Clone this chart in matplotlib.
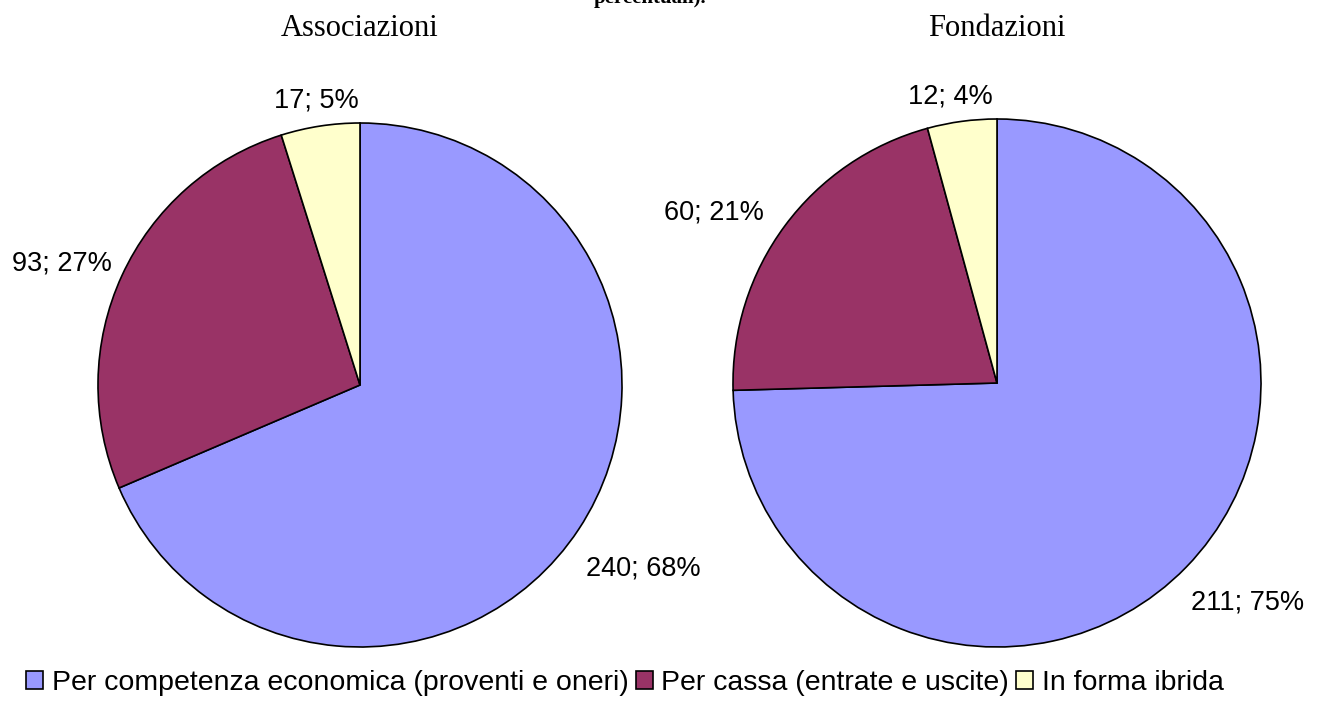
import numpy as np
import matplotlib
matplotlib.use('Agg')
import matplotlib.pyplot as plt

categories = ['Per competenza economica (proventi e oneri)',
              'Per cassa (entrate e uscite)',
              'In forma ibrida']
associazioni = [240, 93, 17]
associazioni_pct = [68, 27, 5]
fondazioni = [211, 60, 12]
fondazioni_pct = [75, 21, 4]
titles = ['Associazioni', 'Fondazioni']
colors = ['#9999FF', '#993366', '#FFFFCC']

W, H = 1327, 704
fig = plt.figure(figsize=(W / 100, H / 100), dpi=100)
ax = fig.add_axes([0, 0, 1, 1])

# pie layout in pixel units (y up); label offsets as (angle shift, radius factor)
pies = [
    (associazioni, associazioni_pct, (360, H - 385), 262, [(0.5, 1.29), (2.5, 1.23), (0, 1.10)]),
    (fondazioni, fondazioni_pct, (997, H - 383), 264, [(3, 1.26), (5.5, 1.25), (1.7, 1.10)]),
]

wedges_all = []
for (vals, pcts, center, r, lab), title in zip(pies, titles):
    wedges, _ = ax.pie(vals, colors=colors, startangle=90, counterclock=False,
                       center=center, radius=r, frame=True,
                       wedgeprops=dict(edgecolor='black', linewidth=1.2))
    wedges_all.append(wedges)
    for w, v, p, (dth, dist) in zip(wedges, vals, pcts, lab):
        mid = np.deg2rad((w.theta1 + w.theta2) / 2 + dth)
        x = center[0] + r * dist * np.cos(mid)
        y = center[1] + r * dist * np.sin(mid)
        ax.text(x, y, f'{v}; {p}%', ha='center', va='center',
                fontsize=19.5, family='Liberation Sans')
    ax.text(center[0], H - 28, title, ha='center', va='center',
            fontsize=22, family='Liberation Serif')

# title of the source is cut at the top edge
ax.text(650, H + 2, 'percentuali).', ha='center', va='center', fontsize=15,
        fontweight='bold', family='Liberation Serif')

ax.set_xlim(0, W)
ax.set_ylim(0, H)
ax.set_aspect('equal')
ax.axis('off')

leg = fig.legend(wedges_all[0], categories, loc='center',
                 bbox_to_anchor=(625 / W, 1 - 683 / H),
                 ncol=3, frameon=False, handlelength=0.6, handleheight=0.6,
                 handletextpad=0.3, columnspacing=0.25,
                 prop=dict(family='Liberation Sans', size=20.5))

fig.savefig('out.png', dpi=100)
